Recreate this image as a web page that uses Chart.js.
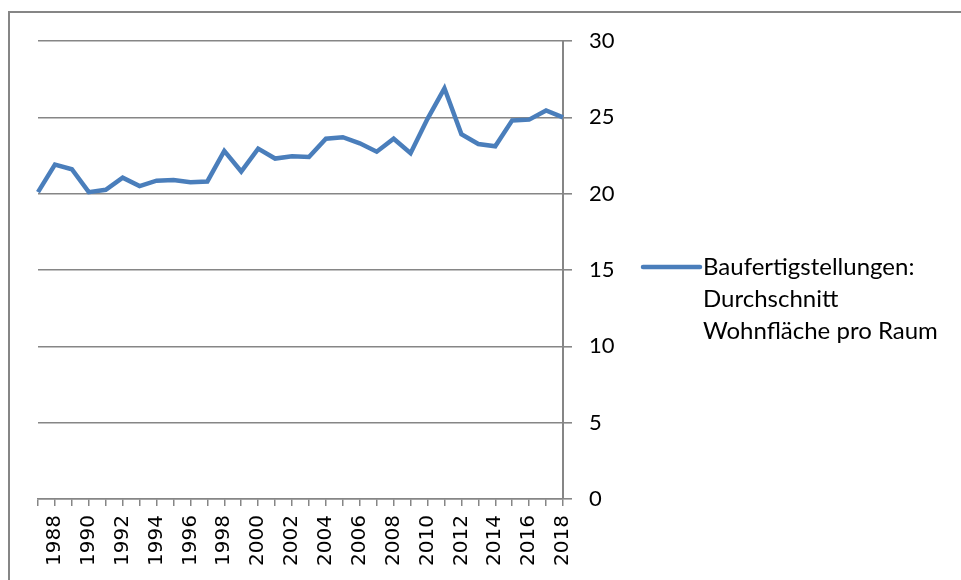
<!DOCTYPE html>
<html>
<head>
<meta charset="utf-8">
<script src="https://cdn.jsdelivr.net/npm/chart.js@4"></script>
<style>
  body { margin: 0; background: #fff; overflow: hidden; }
  #wrap { position: relative; width: 961px; height: 580px; }
  #rahmen {
    position: absolute; left: 8px; top: 11px; width: 1000px; height: 1000px;
    border-top: 2px solid #868686; border-left: 2px solid #868686;
  }
  #grafico { position: absolute; left: 0; top: 0; }
</style>
</head>
<body>
<div id="wrap">
  <div id="rahmen"></div>
  <canvas id="grafico" width="961" height="580"></canvas>
</div>
<script>
// Daten

const jahre = ['1987', '1988', '1989', '1990', '1991', '1992', '1993', '1994', '1995', '1996', '1997',
  '1998', '1999', '2000', '2001', '2002', '2003', '2004', '2005', '2006', '2007', '2008',
  '2009', '2010', '2011', '2012', '2013', '2014', '2015', '2016', '2017', '2018'];

const wohnflaeche = [20.1, 21.9, 21.6, 20.1, 20.25, 21.05, 20.5, 20.85, 20.9, 20.75, 20.8,
  22.8, 21.45, 22.95, 22.3, 22.45, 22.4, 23.6, 23.7, 23.3, 22.75, 23.6,
  22.65, 24.9, 26.9, 23.9, 23.25, 23.1, 24.8, 24.85, 25.45, 25.0];

const legendeZeilen = ['Baufertigstellungen:', 'Durchschnitt', 'Wohnfläche pro Raum'];

const linienFarbe = '#4a7ebb';
const gitterFarbe = '#868686';

// Legende rechts, von Hand gezeichnet (mehrzeilig)
const legendePlugin = {
    id: 'legendeRechts',
    afterDraw(chart) {
        const ctx = chart.ctx;
        const x0 = 643, y0 = 267;
        ctx.save();
        ctx.strokeStyle = linienFarbe;
        ctx.lineWidth = 4.5;
        ctx.lineCap = 'round';
        ctx.beginPath();
        ctx.moveTo(x0, y0);
        ctx.lineTo(x0 + 57, y0);
        ctx.stroke();
        ctx.fillStyle = '#000';
        ctx.font = '24px Lato';
        ctx.textBaseline = 'middle';
        legendeZeilen.forEach((zeile, i) => {
            ctx.fillText(zeile, x0 + 60, y0 + i * 32);
        });
        ctx.restore();
    }
};

const config = {
    type: 'line',
    data: {
        labels: jahre,
        datasets: [
            {
                label: legendeZeilen.join(' '),
                data: wohnflaeche,
                borderColor: linienFarbe,
                backgroundColor: linienFarbe,
                borderWidth: 4.5,
                tension: 0,
                pointRadius: 0,
                fill: false
            }
        ]
    },
    options: {
        responsive: false,
        animation: false,
        layout: {
            padding: { left: 38, top: 41, right: 318, bottom: 0 }
        },
        plugins: {
            legend: { display: false },
            tooltip: { enabled: false }
        },
        scales: {
            x: {
                offset: false,
                grid: {
                    drawOnChartArea: false,
                    drawTicks: true,
                    tickLength: 7,
                    color: gitterFarbe,
                    lineWidth: 1.5
                },
                border: { display: true, color: gitterFarbe, width: 1.5 },
                ticks: {
                    autoSkip: false,
                    minRotation: 90,
                    maxRotation: 90,
                    padding: 9,
                    color: '#000',
                    font: { family: 'DejaVu Sans', size: 20 },
                    callback: function (value) {
                        const jahr = this.getLabelForValue(value);
                        return Number(jahr) % 2 === 0 ? jahr : '';
                    }
                },
                afterFit(scale) {
                    scale.height = 81;
                }
            },
            y: {
                position: 'right',
                min: 0,
                max: 30,
                grid: {
                    color: gitterFarbe,
                    lineWidth: 1.6,
                    drawTicks: true,
                    tickLength: 9
                },
                border: { display: true, color: gitterFarbe, width: 2 },
                ticks: {
                    stepSize: 5,
                    padding: 17,
                    color: '#000',
                    font: { family: 'Lato', size: 22 }
                },
                afterFit(scale) {
                    scale.width = 80;
                }
            }
        }
    },
    plugins: [legendePlugin]
};

const ctx = document.getElementById('grafico').getContext('2d');
const myChart = new Chart(ctx, config);
</script>
</body>
</html>
